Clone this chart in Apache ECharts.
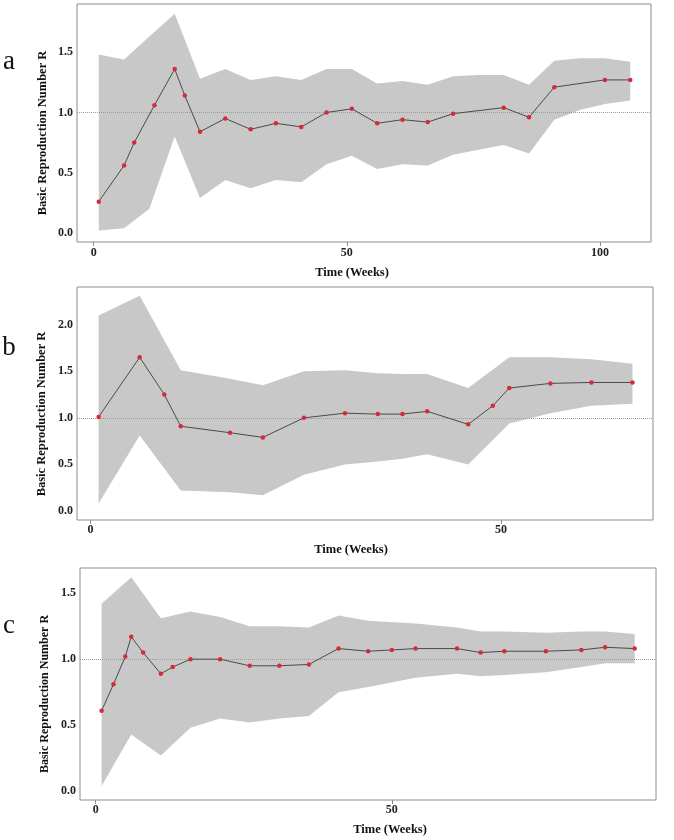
<!DOCTYPE html>
<html>
<head>
<meta charset="utf-8">
<script src="https://cdn.jsdelivr.net/npm/echarts@6/dist/echarts.min.js"></script>
<style>html,body{margin:0;padding:0;background:#fff}#c{width:674px;height:840px}</style>
</head>
<body>
<div id="c"></div>
<script>
// Panel a
const weeksA = [1,6,8,12,16,18,21,26,31,36,41,46,51,56,61,66,71,81,86,91,101,106];
const rA = [0.26,0.56,0.75,1.06,1.36,1.14,0.84,0.95,0.86,0.91,0.88,1.00,1.03,0.91,0.94,0.92,0.99,1.04,0.96,1.21,1.27,1.27];
const bandWeeksA = [1,6,11,16,21,26,31,36,41,46,51,56,61,66,71,76,81,86,91,96,101,106];
const lowA = [0.02,0.04,0.20,0.80,0.29,0.44,0.37,0.44,0.42,0.57,0.64,0.53,0.57,0.56,0.65,0.69,0.73,0.66,0.94,1.02,1.07,1.10];
const upA = [1.48,1.44,1.63,1.82,1.28,1.36,1.27,1.30,1.27,1.36,1.36,1.24,1.26,1.23,1.30,1.31,1.31,1.23,1.43,1.45,1.45,1.42];

// Panel b
const weeksB = [1,6,9,11,17,21,26,31,35,38,41,46,49,51,56,61,66];
const rB = [1.01,1.65,1.25,0.91,0.84,0.79,1.00,1.05,1.04,1.04,1.07,0.93,1.13,1.32,1.37,1.38,1.38];
const bandWeeksB = [1,6,11,17,21,26,31,35,38,41,46,51,56,61,66];
const lowB = [0.08,0.81,0.22,0.20,0.17,0.39,0.50,0.53,0.56,0.61,0.50,0.94,1.05,1.13,1.15];
const upB = [2.10,2.31,1.51,1.42,1.35,1.50,1.51,1.48,1.47,1.47,1.32,1.65,1.65,1.63,1.58];

// Panel c
const weeksC = [1,3,5,6,8,11,13,16,21,26,31,36,41,46,50,54,61,65,69,76,82,86,91];
const rC = [0.61,0.81,1.02,1.17,1.05,0.89,0.94,1.00,1.00,0.95,0.95,0.96,1.08,1.06,1.07,1.08,1.08,1.05,1.06,1.06,1.07,1.09,1.08];
const bandWeeksC = [1,6,11,16,21,26,31,36,41,46,54,61,65,69,76,82,86,91];
const lowC = [0.04,0.43,0.27,0.48,0.55,0.52,0.55,0.57,0.75,0.79,0.86,0.89,0.87,0.88,0.90,0.94,0.97,0.97];
const upC = [1.42,1.62,1.31,1.36,1.32,1.25,1.25,1.24,1.33,1.29,1.27,1.24,1.21,1.21,1.20,1.21,1.21,1.19];

const xTicksA = [0,50,100];
const xTicksB = [0,50];
const xTicksC = [0,50];
const yTicksA = [0,0.5,1.0,1.5];
const yTicksB = [0,0.5,1.0,1.5,2.0];
const yTicksC = [0,0.5,1.0,1.5];

const SERIF = '"Liberation Serif","Times New Roman",serif';
const BAND = '#c8c8c8';
const RED = '#d42a3c';

const panels = [
  {weeks:weeksA, r:rA, bw:bandWeeksA, lo:lowA, up:upA, xt:xTicksA, yt:yTicksA,
   grid:{left:77, top:4, width:574, height:238}, xmin:-3.3, xmax:110.1, ymin:-0.075, ymax:1.90, xm:5},
  {weeks:weeksB, r:rB, bw:bandWeeksB, lo:lowB, up:upB, xt:xTicksB, yt:yTicksB,
   grid:{left:77, top:287, width:576, height:233}, xmin:-1.63, xmax:68.5, ymin:-0.097, ymax:2.405, xm:4},
  {weeks:weeksC, r:rC, bw:bandWeeksC, lo:lowC, up:upC, xt:xTicksC, yt:yTicksC,
   grid:{left:80, top:568, width:576, height:232}, xmin:-2.65, xmax:94.6, ymin:-0.066, ymax:1.69, xm:4}
];

const grids = [], xAxes = [], yAxes = [], series = [];
panels.forEach((p, i) => {
  grids.push(Object.assign({show:true, borderColor:'#8c8c8c', borderWidth:1, backgroundColor:'transparent', containLabel:false, outerBoundsMode:'none'}, p.grid));
  xAxes.push({gridIndex:i, type:'value', min:p.xmin, max:p.xmax,
    splitLine:{show:false}, axisLine:{show:false, onZero:false},
    axisTick:{show:true, customValues:p.xt, length:4, lineStyle:{color:'#8c8c8c'}},
    axisLabel:{customValues:p.xt, fontFamily:SERIF, fontWeight:'bold', fontSize:12, color:'#222', margin:p.xm}});
  yAxes.push({gridIndex:i, type:'value', min:p.ymin, max:p.ymax,
    splitLine:{show:false}, axisLine:{show:false, onZero:false}, axisTick:{show:false},
    axisLabel:{customValues:p.yt, formatter:v => v.toFixed(1), fontFamily:SERIF, fontWeight:'bold', fontSize:12, color:'#222', margin:4}});
  const bandData = p.bw.map((w,k)=>[w, p.lo[k], p.up[k]]);
  series.push({type:'custom', xAxisIndex:i, yAxisIndex:i, silent:true, z:1,
    data:bandData, encode:{x:0, y:[1,2]},
    renderItem:function(params, api){
      if (params.dataIndex !== 0) return null;
      const pts = [];
      for (let k = 0; k < bandData.length; k++) pts.push(api.coord([bandData[k][0], bandData[k][2]]));
      for (let k = bandData.length - 1; k >= 0; k--) pts.push(api.coord([bandData[k][0], bandData[k][1]]));
      return {type:'polygon', shape:{points:pts}, style:{fill:BAND, stroke:null}};
    }});
  series.push({type:'line', xAxisIndex:i, yAxisIndex:i, data:p.weeks.map((w,k)=>[w,p.r[k]]),
    symbol:'circle', symbolSize:4.5, showSymbol:true,
    itemStyle:{color:RED}, lineStyle:{color:'#4a4a4a', width:1}, z:3,
    markLine:{silent:true, symbol:'none', label:{show:false},
      lineStyle:{type:'dotted', color:'#9a9a9a', width:1}, data:[{yAxis:1}], z:2}});
});

const txt = (x,y,t,opt) => Object.assign({type:'text', x:x, y:y, style:Object.assign({text:t, fontFamily:SERIF, fill:'#111', align:'center', verticalAlign:'middle'}, opt||{})});
const graphic = [
  txt(9,62,'a',{fontSize:27}),
  txt(9,348,'b',{fontSize:27}),
  txt(9,626,'c',{fontSize:27}),
  txt(352,273,'Time (Weeks)',{fontSize:12.5, fontWeight:'bold'}),
  txt(351,550,'Time (Weeks)',{fontSize:12.5, fontWeight:'bold'}),
  txt(390,830,'Time (Weeks)',{fontSize:12.5, fontWeight:'bold'}),
  Object.assign(txt(43,133,'Basic Reproduction Number R',{fontSize:12.5, fontWeight:'bold'}),{rotation:Math.PI/2}),
  Object.assign(txt(42,414,'Basic Reproduction Number R',{fontSize:12.5, fontWeight:'bold'}),{rotation:Math.PI/2}),
  Object.assign(txt(45,694,'Basic Reproduction Number R',{fontSize:12, fontWeight:'bold'}),{rotation:Math.PI/2})
];

const chart = echarts.init(document.getElementById('c'), null, {renderer:'canvas'});
chart.setOption({animation:false, backgroundColor:'#fff', grid:grids, xAxis:xAxes, yAxis:yAxes, series:series, graphic:graphic});
</script>
</body>
</html>
